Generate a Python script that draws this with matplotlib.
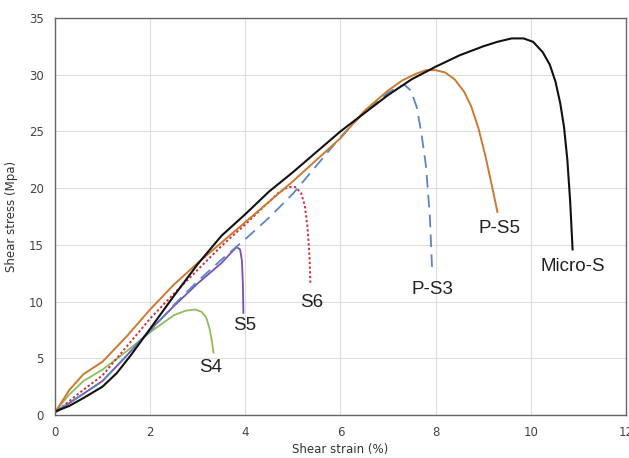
import numpy as np
import matplotlib
matplotlib.use("Agg")
import matplotlib.pyplot as plt

# Shear strain (%) / shear stress (MPa)
micro_x = [0.0, 0.3, 0.6, 1.0, 1.3, 1.6, 2.0, 2.5, 3.0, 3.5, 4.0, 4.5, 5.0, 5.5, 6.0, 6.5, 7.0, 7.5,
           8.0, 8.5, 9.0, 9.3, 9.6, 9.85, 10.05, 10.25, 10.4, 10.52, 10.62, 10.7, 10.77, 10.83, 10.88]
micro_y = [0.3, 0.8, 1.5, 2.5, 3.7, 5.3, 7.6, 10.5, 13.3, 15.8, 17.7, 19.7, 21.4, 23.2, 25.0, 26.6,
           28.2, 29.6, 30.7, 31.7, 32.5, 32.9, 33.2, 33.2, 32.9, 32.0, 30.9, 29.4, 27.5, 25.4, 22.5,
           18.8, 14.6]

ps5_x = [0.0, 0.3, 0.6, 1.0, 1.5, 2.0, 2.5, 3.0, 3.5, 4.0, 4.5, 5.0, 5.5, 6.0, 6.5, 7.0, 7.3, 7.6,
         7.8, 8.0, 8.2, 8.4, 8.6, 8.75, 8.9, 9.05, 9.2, 9.3]
ps5_y = [0.2, 2.2, 3.6, 4.7, 6.9, 9.3, 11.5, 13.4, 15.2, 17.0, 18.8, 20.6, 22.5, 24.4, 26.8, 28.6,
         29.5, 30.1, 30.4, 30.4, 30.2, 29.6, 28.5, 27.2, 25.3, 22.8, 19.9, 17.9]

ps3_x = [0.0, 0.5, 1.0, 1.5, 2.0, 2.5, 3.0, 3.5, 4.0, 4.5, 5.0, 5.5, 6.0, 6.5, 7.0, 7.2, 7.35, 7.48,
         7.6, 7.7, 7.8, 7.88, 7.93]
ps3_y = [0.3, 1.6, 3.0, 5.2, 7.4, 9.7, 11.8, 13.7, 15.5, 17.4, 19.5, 22.0, 24.5, 26.7, 28.4, 28.9,
         29.1, 28.6, 27.2, 24.9, 21.9, 17.5, 12.6]

s6_x = [0.0, 0.5, 1.0, 1.5, 2.0, 2.5, 3.0, 3.5, 4.0, 4.4, 4.7, 4.9, 5.05, 5.17, 5.25, 5.31, 5.35, 5.37]
s6_y = [0.2, 1.9, 3.5, 6.0, 8.5, 10.7, 12.8, 14.9, 16.8, 18.4, 19.6, 20.1, 20.1, 19.6, 18.5, 16.5,
        14.0, 11.5]

s5_x = [0.0, 0.5, 1.0, 1.5, 2.0, 2.5, 3.0, 3.5, 3.7, 3.82, 3.89, 3.93, 3.95, 3.96]
s5_y = [0.2, 1.6, 3.0, 5.2, 7.5, 9.6, 11.6, 13.4, 14.3, 14.8, 14.6, 13.6, 11.5, 9.0]

s4_x = [0.0, 0.3, 0.6, 1.0, 1.5, 2.0, 2.5, 2.75, 2.95, 3.08, 3.18, 3.25, 3.3, 3.33]
s4_y = [0.3, 1.8, 3.0, 4.0, 5.6, 7.3, 8.8, 9.2, 9.3, 9.1, 8.6, 7.6, 6.5, 5.5]

labels = ["Micro-S", "P-S5", "P-S3", "S6", "S5", "S4"]
label_xy = [(10.88, 13.05), (9.35, 16.4), (7.94, 11.1), (5.4, 9.9), (3.98, 7.9), (3.28, 4.15)]

fig = plt.figure(figsize=(6.29, 4.58), dpi=100)
ax = fig.add_axes([0.0874, 0.0939, 0.9076, 0.8668])

ax.plot(s4_x, s4_y, color="#8fbc5a", lw=1.3)
ax.plot(s5_x, s5_y, color="#7a4fb0", lw=1.3)
ax.plot(s6_x, s6_y, color="#d0303a", lw=1.4, ls=(0, (1.2, 1.2)))
ax.plot(ps3_x, ps3_y, color="#5a86c8", lw=1.3, ls=(0, (7, 4)))
ax.plot(ps5_x, ps5_y, color="#cc7a30", lw=1.4)
ax.plot(micro_x, micro_y, color="#111111", lw=1.5)

for text, (tx, ty) in zip(labels, label_xy):
    ax.text(tx, ty, text, ha="center", va="center", fontsize=13.5,
            family="Liberation Sans", color="#222222")

ax.set_xlim(0, 12)
ax.set_ylim(0, 35)
ax.set_xticks(np.arange(0, 13, 2))
ax.set_yticks(np.arange(0, 36, 5))
ax.grid(color="#dddddd", lw=0.8)
ax.set_axisbelow(True)
for sp in ax.spines.values():
    sp.set_color("#666666")
    sp.set_linewidth(1.0)
ax.tick_params(length=0, labelsize=8.5, labelcolor="#444444", pad=8)
ax.set_xlabel("Shear strain (%)", fontsize=8.5, color="#333333", labelpad=3)
ax.set_ylabel("Shear stress (Mpa)", fontsize=8.5, color="#333333", labelpad=8)

fig.savefig("out.png", dpi=100)
